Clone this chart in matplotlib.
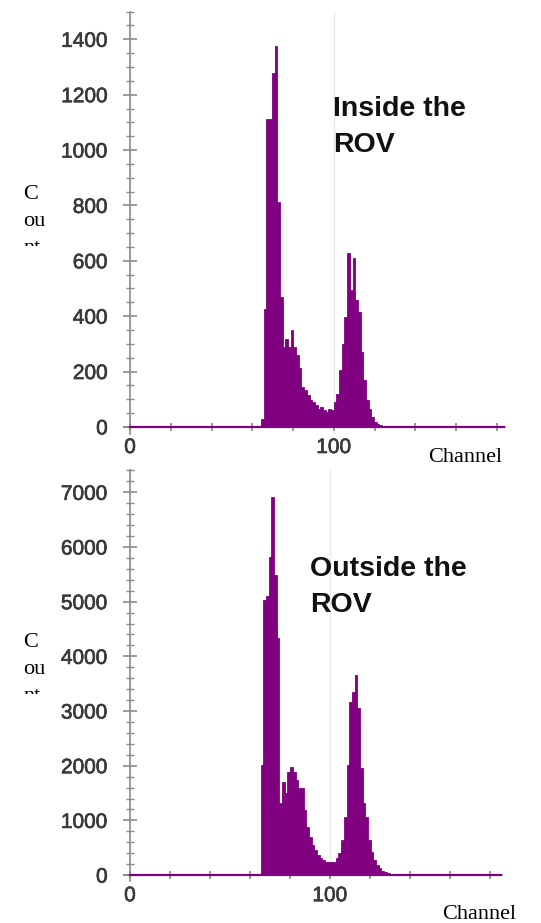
import numpy as np
import matplotlib
matplotlib.use("Agg")
import matplotlib.pyplot as plt
import matplotlib.patheffects as pe
from matplotlib.ticker import MultipleLocator, FixedLocator, NullFormatter
from matplotlib.transforms import Bbox

# histogram data (channel bins, counts)
inside_start = 64.3
inside_width = 1.32
inside_counts = [30, 427, 1113, 1113, 1278, 1376, 812, 470, 289, 319, 289, 349,
                 289, 260, 211, 144, 135, 114, 96, 90, 78, 66, 72, 60, 54, 66,
                 60, 90, 120, 205, 300, 397, 628, 493, 611, 457, 415, 271, 168,
                 96, 66, 36, 18, 10, 8, 5]

outside_start = 65.3
outside_width = 1.343
outside_counts = [2012, 5030, 5100, 5820, 6920, 5480, 4330, 1310, 1707, 1494,
                  1890, 1982, 1890, 1738, 1585, 1585, 1190, 885, 700, 550, 457,
                  366, 305, 275, 244, 244, 244, 244, 305, 396, 640, 1067, 2012,
                  3170, 3354, 3660, 3050, 1951, 1311, 1067, 640, 427, 275, 183,
                  122, 80, 50, 30, 20, 10]

panel_titles = ["Inside the\nROV", "Outside the\nROV"]
x_labels = ["0", "100"]

PURPLE = "#800080"
GRAY = "#8a8a8a"
LABEL = "#3a3a3a"
W, H = 541, 923

fig = plt.figure(figsize=(W / 100, H / 100), dpi=100)


def draw_panel(ax, start, width, counts, xlim, ylim, major, minor):
    edges = start + width * np.arange(len(counts))
    ax.bar(edges, counts, width=width, align="edge", color=PURPLE,
           edgecolor=PURPLE, linewidth=0.6, zorder=3)
    ax.set_xlim(*xlim)
    ax.set_ylim(*ylim)
    x0 = (0 - xlim[0]) / (xlim[1] - xlim[0])
    ax.axhline(0, xmin=x0, xmax=1, color=PURPLE, lw=1.6, zorder=4)
    ax.axvline(100, color="#e8e8e8", lw=1.0, zorder=1)

    for s in ["top", "right"]:
        ax.spines[s].set_visible(False)
    ax.spines["left"].set_position(("data", 0))
    ax.spines["bottom"].set_position(("data", 0))
    for s in ["left", "bottom"]:
        ax.spines[s].set_color(GRAY)
        ax.spines[s].set_linewidth(1.2)

    ax.xaxis.set_major_locator(FixedLocator([0, 100]))
    ax.xaxis.set_minor_locator(MultipleLocator(20))
    ax.set_xticklabels(x_labels)
    ax.yaxis.set_major_locator(MultipleLocator(major))
    ax.yaxis.set_minor_locator(MultipleLocator(minor))
    ax.yaxis.set_minor_formatter(NullFormatter())

    ax.tick_params(axis="x", which="both", direction="inout", length=6,
                   width=1.2, color=GRAY, pad=5, labelsize=15,
                   labelcolor=LABEL)
    ax.tick_params(axis="y", which="major", direction="inout", length=10,
                   width=1.2, color=GRAY, pad=11, labelsize=15,
                   labelcolor=LABEL)
    ax.tick_params(axis="y", which="minor", direction="inout", length=6,
                   width=1.0, color=GRAY)
    for t in ax.get_xticklabels() + ax.get_yticklabels():
        t.set_fontfamily("Liberation Sans")
        t.set_path_effects([pe.withStroke(linewidth=0.5, foreground=LABEL)])
    ax.set_facecolor("none")


ax1 = fig.add_axes([124 / W, 0.530, 381 / W, 0.4574])
draw_panel(ax1, inside_start, inside_width, inside_counts,
           (-3, 184), (-25, 1500), 200, 50)

ax2 = fig.add_axes([124 / W, 0.046, 378 / W, 0.4443])
draw_panel(ax2, outside_start, outside_width, outside_counts,
           (-3, 186), (-100, 7400), 1000, 200)

# panel annotations (baseline given for the last line)
fig.text(333 / W, 1 - 152 / H, panel_titles[0], fontsize=20.5,
         fontweight="bold", family="Liberation Sans", color="#111111",
         va="baseline", linespacing=1.52)
fig.text(310 / W, 1 - 612 / H, panel_titles[1], fontsize=20.5,
         fontweight="bold", family="Liberation Sans", color="#111111",
         va="baseline", linespacing=1.52)

# axis labels (serif, the y label is cut off as in the original)
for yb, cut in [(253, 246), (701, 694)]:
    t = fig.text(23 / W, 1 - yb / H, "C\nou\nnt", fontsize=16,
                 family="Liberation Serif", va="baseline", ha="left",
                 linespacing=1.58, multialignment="left")
    t.set_clip_box(Bbox([[0, H - cut], [120, H]]))
    t.set_clip_on(True)

fig.text(428 / W, 1 - 462 / H, "Channel", fontsize=16,
         family="Liberation Serif", va="baseline")
fig.text(442 / W, 1 - 919 / H, "Channel", fontsize=16,
         family="Liberation Serif", va="baseline")

fig.savefig("out.png", dpi=100, facecolor="white")
